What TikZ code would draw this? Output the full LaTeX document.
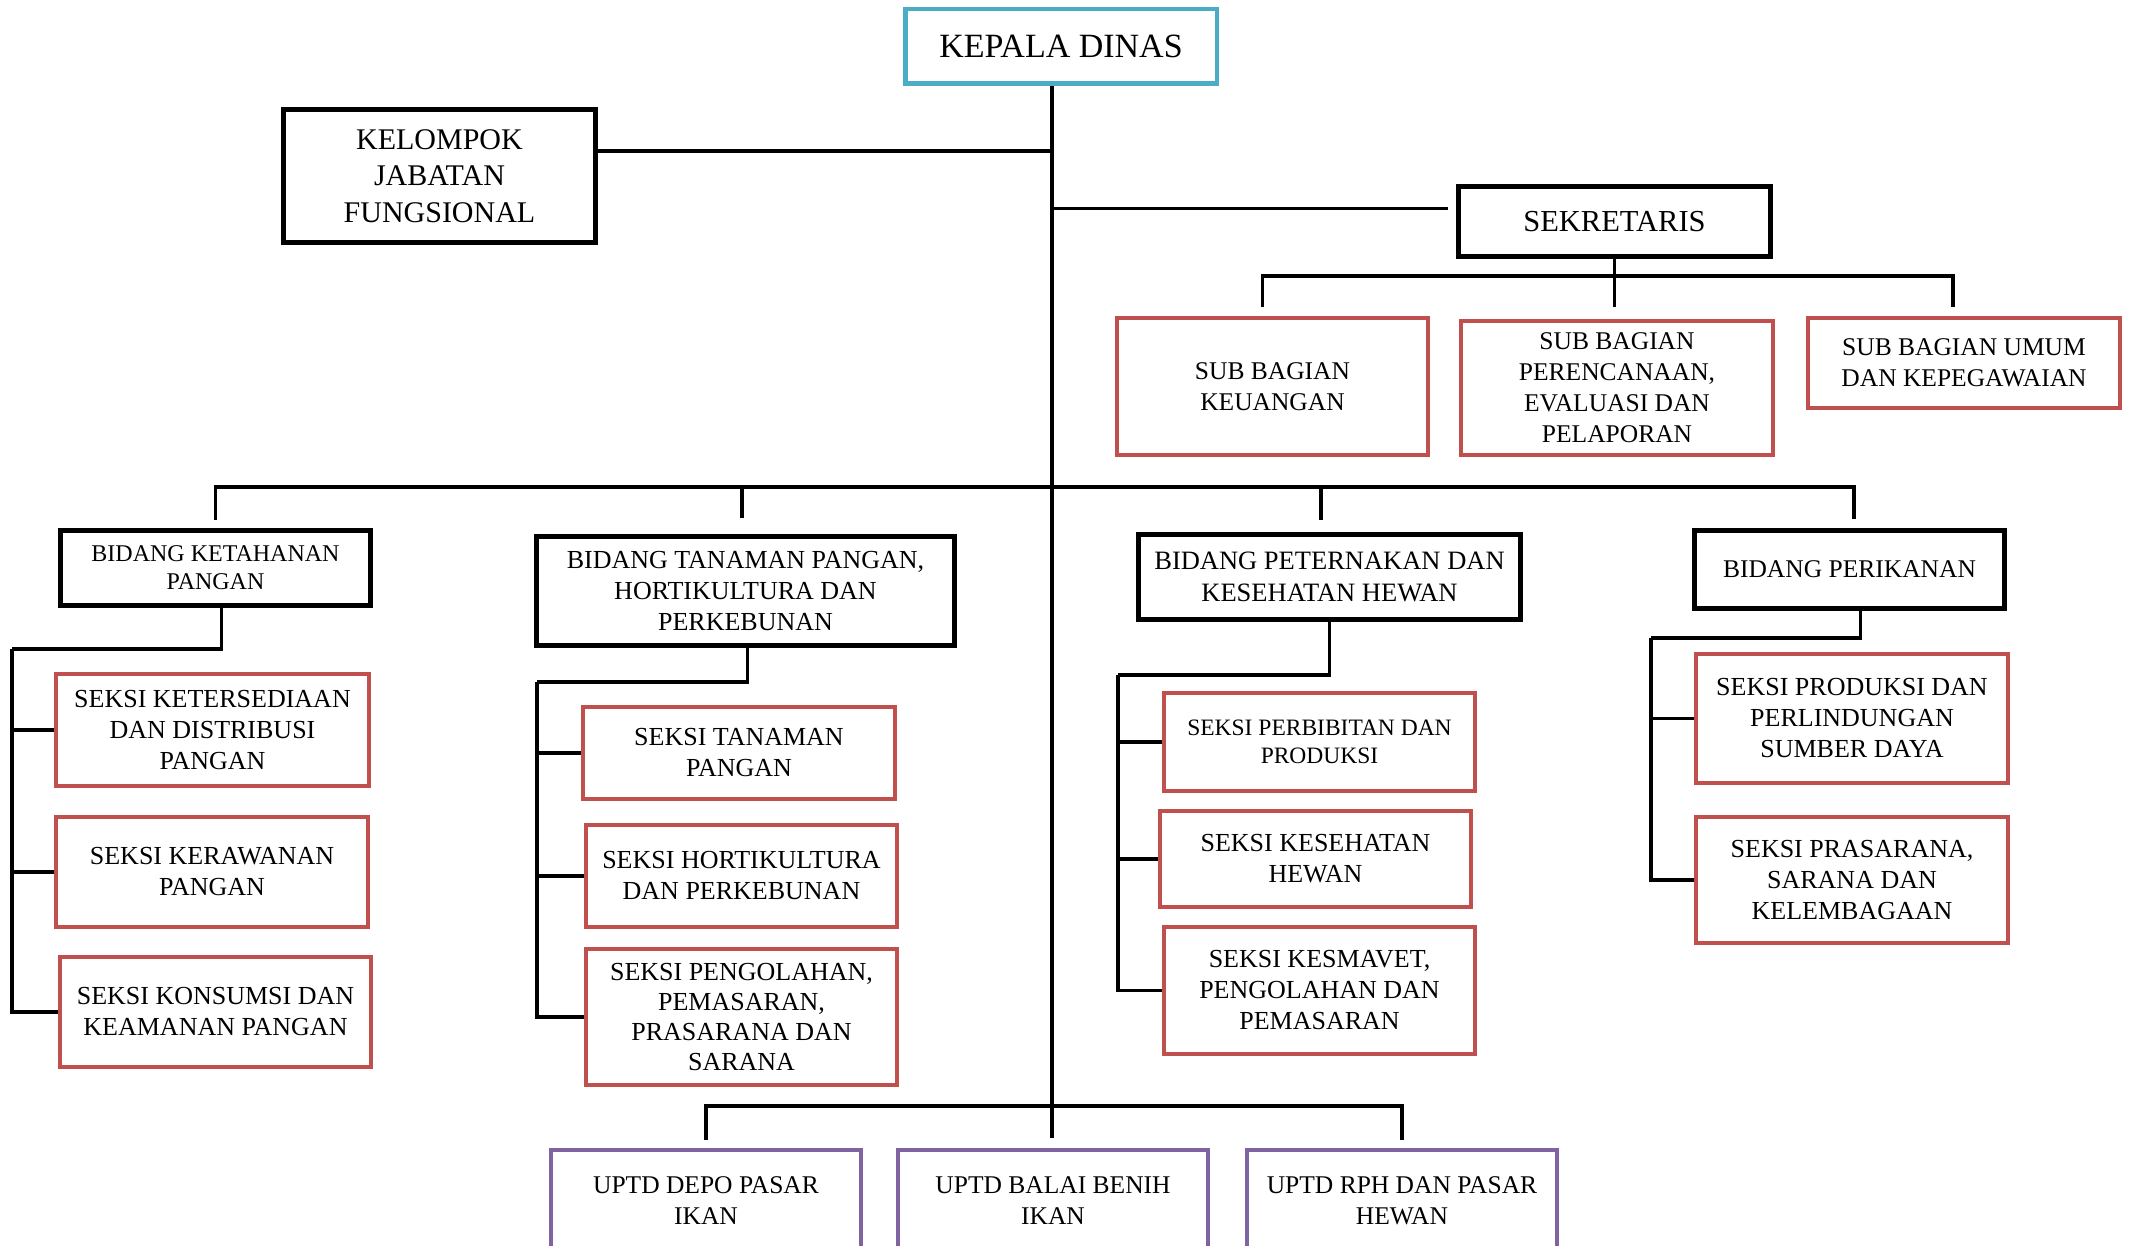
\documentclass[tikz,border=0pt]{standalone}
\usepackage{fontspec}
\setmainfont{Liberation Serif}
\definecolor{kred}{HTML}{C0504D}
\definecolor{kpur}{HTML}{8064A2}
\definecolor{kcyan}{HTML}{4BACC6}
\begin{document}
\begin{tikzpicture}[x=1pt,y=-1pt,
  fs/.style 2 args={font=\fontsize{#1}{#2}\selectfont},
  box/.style={draw, line width=5pt, inner sep=0pt, align=center, anchor=center, fs={26}{31}},
  blk/.style={box, draw=black},
  redb/.style={box, draw=kred, line width=4.5pt},
  purb/.style={box, draw=kpur, line width=4.5pt},
  conn/.style={line width=3.5pt, black}
]
\useasboundingbox (0,0) rectangle (2131,1246);

% top level
\node[box, draw=kcyan, line width=4.5pt, minimum width=311.5pt, minimum height=74.5pt, fs={34}{40}] (kd) at (1061,46.5) {KEPALA DINAS};
\node[blk, minimum width=312pt, minimum height=133pt, fs={30}{36.7}] (kel) at (439.5,176) {KELOMPOK\\JABATAN\\FUNGSIONAL};
\node[blk, minimum width=312pt, minimum height=70pt, fs={30.5}{36}] (sek) at (1614.5,221.5) {SEKRETARIS};

% sub bagian
\node[redb, minimum width=311pt, minimum height=137pt, fs={25.5}{31}] (sb1) at (1272.5,386.5) {SUB BAGIAN\\KEUANGAN};
\node[redb, minimum width=312pt, minimum height=134pt, fs={25.5}{31}] (sb2) at (1617,388) {SUB BAGIAN\\PERENCANAAN,\\EVALUASI DAN\\PELAPORAN};
\node[redb, minimum width=312pt, minimum height=90pt, fs={25.5}{31}] (sb3) at (1964,363) {SUB BAGIAN UMUM\\DAN KEPEGAWAIAN};

% bidang
\node[blk, minimum width=310pt, minimum height=75pt, fs={24}{28}] (bd1) at (215.5,568) {BIDANG KETAHANAN\\PANGAN};
\node[blk, minimum width=418pt, minimum height=109pt, fs={26}{31}] (bd2) at (745.5,591) {BIDANG TANAMAN PANGAN,\\HORTIKULTURA DAN\\PERKEBUNAN};
\node[blk, minimum width=382pt, minimum height=85pt, fs={26.5}{32}] (bd3) at (1329.5,577) {BIDANG PETERNAKAN DAN\\KESEHATAN HEWAN};
\node[blk, minimum width=310pt, minimum height=78pt, fs={25.5}{31}] (bd4) at (1849.5,569.5) {BIDANG PERIKANAN};

% seksi column 1
\node[redb, minimum width=313pt, minimum height=112pt] (s11) at (212.5,730) {SEKSI KETERSEDIAAN\\DAN DISTRIBUSI\\PANGAN};
\node[redb, minimum width=312pt, minimum height=110pt] (s12) at (212,872) {SEKSI KERAWANAN\\PANGAN};
\node[redb, minimum width=311pt, minimum height=110pt] (s13) at (215.5,1012) {SEKSI KONSUMSI DAN\\KEAMANAN PANGAN};

% seksi column 2
\node[redb, minimum width=312pt, minimum height=92pt] (s21) at (739,753) {SEKSI TANAMAN\\PANGAN};
\node[redb, minimum width=311pt, minimum height=102pt] (s22) at (741.5,876) {SEKSI HORTIKULTURA\\DAN PERKEBUNAN};
\node[redb, minimum width=311pt, minimum height=136pt, fs={26}{30}] (s23) at (741.5,1017) {SEKSI PENGOLAHAN,\\PEMASARAN,\\PRASARANA DAN\\SARANA};

% seksi column 3
\node[redb, minimum width=311pt, minimum height=98pt, fs={23.5}{28}] (s31) at (1319.5,742) {SEKSI PERBIBITAN DAN\\PRODUKSI};
\node[redb, minimum width=311pt, minimum height=96pt] (s32) at (1315.5,859) {SEKSI KESEHATAN\\HEWAN};
\node[redb, minimum width=311pt, minimum height=127pt] (s33) at (1319.5,990.5) {SEKSI KESMAVET,\\PENGOLAHAN DAN\\PEMASARAN};

% seksi column 4
\node[redb, minimum width=312pt, minimum height=129pt] (s41) at (1852,718.5) {SEKSI PRODUKSI DAN\\PERLINDUNGAN\\SUMBER DAYA};
\node[redb, minimum width=312pt, minimum height=126pt] (s42) at (1852,880) {SEKSI PRASARANA,\\SARANA DAN\\KELEMBAGAAN};

% UPTD
\node[purb, minimum width=310pt, minimum height=102pt, fs={25.5}{31}] (u1) at (706,1201) {UPTD DEPO PASAR\\IKAN};
\node[purb, minimum width=310pt, minimum height=102pt, fs={25.5}{31}] (u2) at (1053,1201) {UPTD BALAI BENIH\\IKAN};
\node[purb, minimum width=310pt, minimum height=102pt, fs={25.5}{31}] (u3) at (1402,1201) {UPTD RPH DAN PASAR\\HEWAN};

% main spine
\coordinate (sp) at ([xshift=-9pt]kd.south);
\draw[conn, shorten >=10pt] (sp) -- (sp |- u2.north);
\draw[conn] ([yshift=25pt]kel.east) -- ([yshift=25pt]kel.east -| sp);
\draw[conn, shorten <=8pt] ([yshift=13pt]sek.west) -- ([yshift=13pt]sek.west -| sp);

% sekretaris
\draw[conn, shorten >=9pt] (sek.south) -- ++(0,17) -| ([xshift=-10pt]sb1.north);
\draw[conn, shorten >=9pt] (sek.south) -- ++(0,17) -| ([xshift=-11pt]sb3.north);
\draw[conn, shorten >=12pt] (sek.south) -- (sek.south |- sb2.north);

% bidang bus
\coordinate (bbus) at (1052,487);
\draw[conn, shorten >=8pt] (bbus) -| (bd1.north);
\draw[conn, shorten >=16pt] (bbus) -| ([xshift=-3.5pt]bd2.north);
\draw[conn, shorten >=12pt] (bbus) -| ([xshift=-8.5pt]bd3.north);
\draw[conn, shorten >=9pt] (bbus) -| ([xshift=4.5pt]bd4.north);

% bidang 1 children
\coordinate (c1) at (12,649);
\draw[conn] ([xshift=6pt]bd1.south) |- (c1);
\draw[conn] (c1) |- (s11.west);
\draw[conn] (c1) |- (s12.west);
\draw[conn] (c1) |- (s13.west);

% bidang 2 children
\coordinate (c2) at (537,682);
\draw[conn] ([xshift=2pt]bd2.south) |- (c2);
\draw[conn] (c2) |- (s21.west);
\draw[conn] (c2) |- (s22.west);
\draw[conn] (c2) |- (s23.west);

% bidang 3 children
\coordinate (c3) at (1118,675);
\draw[conn] (bd3.south) |- (c3);
\draw[conn] (c3) |- (s31.west);
\draw[conn] (c3) |- (s32.west);
\draw[conn] (c3) |- (s33.west);

% bidang 4 children
\coordinate (c4) at (1651,638);
\draw[conn] ([xshift=11pt]bd4.south) |- (c4);
\draw[conn] (c4) |- (s41.west);
\draw[conn] (c4) |- (s42.west);

% UPTD bus
\coordinate (ubus) at (1052,1106);
\draw[conn, shorten >=8pt] (ubus) -| (u1.north);
\draw[conn, shorten >=8pt] (ubus) -| (u3.north);
\end{tikzpicture}
\end{document}
